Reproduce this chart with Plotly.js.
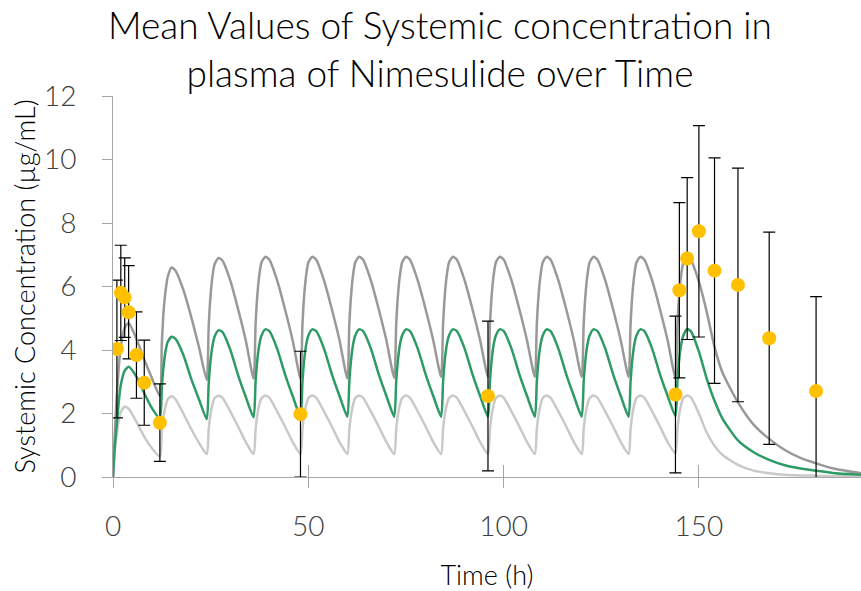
<!DOCTYPE html>
<html>
<head>
<meta charset="utf-8">
<script src="https://cdn.plot.ly/plotly-3.0.1.min.js"></script>
<style>html,body{margin:0;padding:0;background:#fff;}#chart{width:861px;height:591px;}</style>
</head>
<body>
<div id="chart"></div>
<script>
// Simulated profiles, 12-hourly dosing
const simTime = [
  0,0.5,1,1.5,2,3,4,6,8,10,
  12,12.5,13,13.5,14,15,16,18,20,22,
  24,24.5,25,25.5,26,27,28,30,32,34,
  36,36.5,37,37.5,38,39,40,42,44,46,
  48,48.5,49,49.5,50,51,52,54,56,58,
  60,60.5,61,61.5,62,63,64,66,68,70,
  72,72.5,73,73.5,74,75,76,78,80,82,
  84,84.5,85,85.5,86,87,88,90,92,94,
  96,96.5,97,97.5,98,99,100,102,104,106,
  108,108.5,109,109.5,110,111,112,114,116,118,
  120,120.5,121,121.5,122,123,124,126,128,130,
  132,132.5,133,133.5,134,135,136,138,140,142,
  144,144.5,145,145.5,146,147,148,150,152,154,156,160,164,168,172,176,180,185,191.5
];
const upperSim = [
  0,1.5,2.6,3.5,4.1,4.7,4.85,4.35,3.7,3.1,
  2.55,4.2,5.3,5.9,6.3,6.6,6.5,5.9,5.05,4.1,
  3.05,4.75,5.75,6.35,6.7,6.9,6.82,6.2,5.3,4.3,
  3.1,4.8,5.8,6.4,6.75,6.94,6.85,6.2,5.3,4.3,
  3.1,4.8,5.8,6.4,6.75,6.94,6.85,6.2,5.3,4.3,
  3.1,4.8,5.8,6.4,6.75,6.94,6.85,6.2,5.3,4.3,
  3.12,4.8,5.8,6.4,6.75,6.94,6.85,6.2,5.3,4.3,
  3.15,4.8,5.8,6.4,6.75,6.94,6.85,6.2,5.3,4.3,
  3.15,4.8,5.8,6.4,6.75,6.94,6.85,6.2,5.3,4.3,
  3.15,4.8,5.8,6.4,6.75,6.94,6.85,6.2,5.3,4.3,
  3.15,4.8,5.8,6.4,6.75,6.94,6.85,6.2,5.3,4.3,
  3.15,4.8,5.8,6.4,6.75,6.94,6.85,6.2,5.3,4.3,
  3.12,4.8,5.8,6.4,6.75,6.92,6.82,6.15,5.2,4.1,3.3,2.35,1.65,1.2,0.85,0.6,0.43,0.25,0.12
];
const meanSim = [
  0,1.0,1.7,2.4,2.9,3.35,3.47,3.16,2.64,2.16,
  1.85,2.85,3.55,4.0,4.25,4.42,4.35,3.85,3.1,2.45,
  1.82,2.95,3.7,4.15,4.42,4.62,4.57,4.02,3.22,2.52,
  1.88,3.0,3.75,4.2,4.45,4.65,4.6,4.05,3.25,2.55,
  1.9,3.0,3.75,4.2,4.45,4.65,4.6,4.05,3.25,2.55,
  1.9,3.0,3.75,4.2,4.45,4.65,4.6,4.05,3.25,2.55,
  1.9,3.0,3.75,4.2,4.45,4.65,4.6,4.05,3.25,2.55,
  1.9,3.0,3.75,4.2,4.45,4.65,4.6,4.05,3.25,2.55,
  1.9,3.0,3.75,4.2,4.45,4.65,4.6,4.05,3.25,2.55,
  1.9,3.0,3.75,4.2,4.45,4.65,4.6,4.05,3.25,2.55,
  1.9,3.0,3.75,4.2,4.45,4.65,4.6,4.05,3.25,2.55,
  1.9,3.0,3.75,4.2,4.45,4.65,4.6,4.05,3.25,2.55,
  1.92,3.0,3.75,4.2,4.45,4.66,4.58,3.95,3.1,2.4,1.85,1.15,0.78,0.54,0.37,0.27,0.2,0.12,0.07
];
const lowerSim = [
  0,0.9,1.4,1.8,2.05,2.21,2.15,1.74,1.27,0.9,
  0.64,1.45,1.95,2.25,2.45,2.54,2.45,2.0,1.52,1.08,
  0.72,1.5,2.0,2.3,2.48,2.56,2.5,2.07,1.6,1.1,
  0.72,1.5,2.0,2.3,2.48,2.57,2.5,2.07,1.6,1.1,
  0.72,1.5,2.0,2.3,2.48,2.57,2.5,2.07,1.6,1.1,
  0.72,1.5,2.0,2.3,2.48,2.57,2.5,2.07,1.6,1.1,
  0.72,1.5,2.0,2.3,2.48,2.57,2.5,2.07,1.6,1.1,
  0.72,1.5,2.0,2.3,2.48,2.57,2.5,2.07,1.6,1.1,
  0.72,1.5,2.0,2.3,2.48,2.57,2.5,2.07,1.6,1.1,
  0.72,1.5,2.0,2.3,2.48,2.57,2.5,2.07,1.6,1.1,
  0.72,1.5,2.0,2.3,2.48,2.57,2.5,2.07,1.6,1.1,
  0.72,1.5,2.0,2.3,2.48,2.57,2.5,2.07,1.6,1.1,
  0.75,1.5,2.0,2.3,2.48,2.57,2.5,2.0,1.4,0.98,0.7,0.38,0.2,0.12,0.07,0.05,0.04,0.02,0.01
];

// Observed mean +/- SD
const obsTime = [1,2,3,4,6,8,12,48,96,144,145,147,150,154,160,168,180];
const obsMean = [4.03,5.8,5.65,5.19,3.84,2.97,1.71,1.98,2.55,2.6,5.88,6.88,7.74,6.5,6.05,4.37,2.71];
const obsSD   = [2.17,1.5,1.25,1.47,1.36,1.34,1.22,1.98,2.36,2.47,2.76,2.55,3.33,3.55,3.68,3.34,2.97];

const xTicks = [0,50,100,150];
const yTicks = [0,2,4,6,8,10,12];

const FONT = 'Lato, "Open Sans", sans-serif';

const traces = [
  {x: simTime, y: upperSim, type: 'scatter', mode: 'lines', line: {color: '#999999', width: 2.5, shape: 'spline', smoothing: 0.6}, hoverinfo: 'skip'},
  {x: simTime, y: lowerSim, type: 'scatter', mode: 'lines', line: {color: '#c9c9c9', width: 2.5, shape: 'spline', smoothing: 0.6}, hoverinfo: 'skip'},
  {x: simTime, y: meanSim, type: 'scatter', mode: 'lines', line: {color: '#2e9a66', width: 2.5, shape: 'spline', smoothing: 0.6}, hoverinfo: 'skip'},
  {x: obsTime, y: obsMean, type: 'scatter', mode: 'markers',
   marker: {color: '#ffc000', size: 14},
   error_y: {type: 'data', array: obsSD, visible: true, color: '#000000', thickness: 1.2, width: 6}},
  {x: [], y: [], xaxis: 'x2', yaxis: 'y', type: 'scatter', hoverinfo: 'skip'}
];

const layout = {
  width: 861, height: 591,
  margin: {l: 113, r: 0, t: 96, b: 114},
  paper_bgcolor: '#ffffff', plot_bgcolor: '#ffffff',
  showlegend: false,
  font: {family: FONT, color: '#000000', weight: 300},
  title: {text: 'Mean Values of Systemic concentration in<br>plasma of Nimesulide over Time',
          font: {family: FONT, size: 37, color: '#000000', weight: 300},
          x: 0.511, xanchor: 'center', xref: 'container', y: 0.934, yanchor: 'top', yref: 'container'},
  xaxis: {range: [0, 191.5], tickvals: xTicks, ticks: 'outside', ticklen: 10, tickcolor: '#a6a6a6', tickwidth: 1,
          showline: true, linecolor: '#a6a6a6', linewidth: 1, showgrid: false, zeroline: false,
          tickfont: {family: FONT, size: 28, color: '#404040', weight: 300}, ticklabelstandoff: 14,
          title: {text: 'Time (h)', font: {family: FONT, size: 27, color: '#000000', weight: 300}, standoff: 25}},
  xaxis2: {range: [0, 191.5], overlaying: 'x', anchor: 'y', side: 'bottom', tickvals: xTicks, ticks: 'inside', ticklen: 12,
           tickcolor: '#a6a6a6', tickwidth: 1, showticklabels: false, showline: false, showgrid: false, zeroline: false},
  yaxis: {range: [0, 12], tickvals: yTicks, ticks: 'outside', ticklen: 10, tickcolor: '#a6a6a6', tickwidth: 1,
          showline: true, linecolor: '#a6a6a6', linewidth: 1, showgrid: false, zeroline: false,
          tickfont: {family: FONT, size: 28, color: '#404040', weight: 300}, ticklabelstandoff: 20,
          title: {text: 'Systemic Concentration (µg/mL)', font: {family: FONT, size: 27, color: '#000000', weight: 300}, standoff: 0}}
};

Plotly.newPlot('chart', traces, layout, {displayModeBar: false, staticPlot: true});
</script>
</body>
</html>
